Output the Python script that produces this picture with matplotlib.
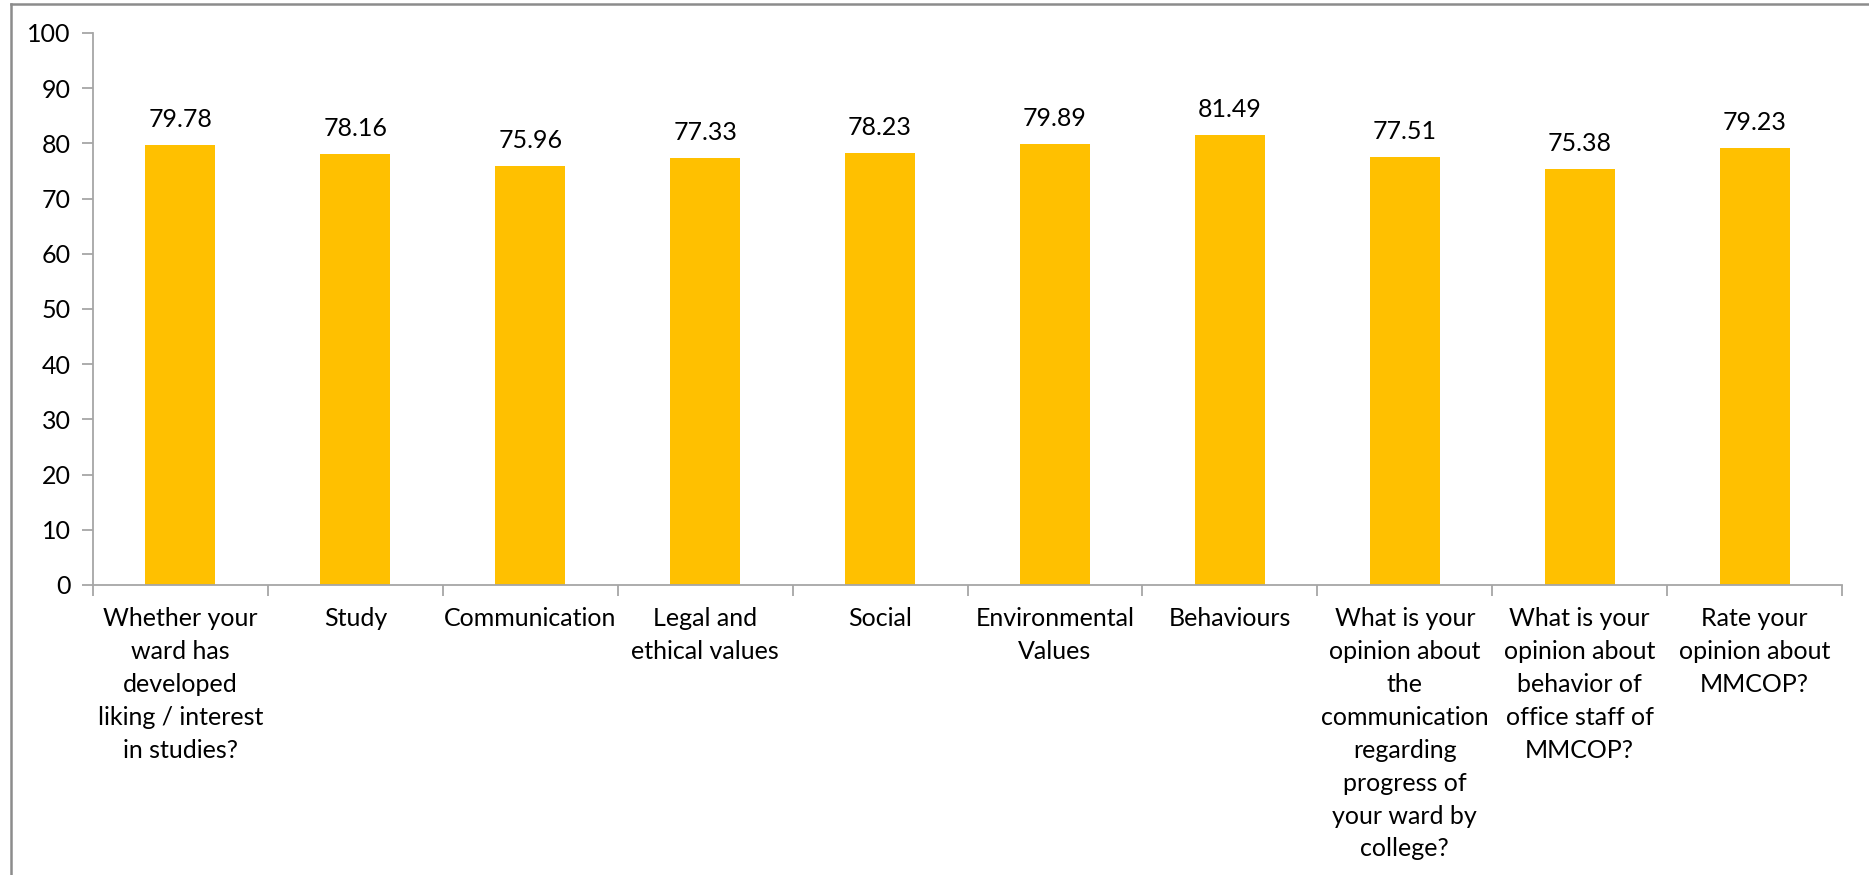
import matplotlib.pyplot as plt
from matplotlib.lines import Line2D
import numpy as np

categories = [
    "Whether your\nward has\ndeveloped\nliking / interest\nin studies?",
    "Study",
    "Communication",
    "Legal and\nethical values",
    "Social",
    "Environmental\nValues",
    "Behaviours",
    "What is your\nopinion about\nthe\ncommunication\nregarding\nprogress of\nyour ward by\ncollege?",
    "What is your\nopinion about\nbehavior of\noffice staff of\nMMCOP?",
    "Rate your\nopinion about\nMMCOP?",
]
values = [79.78, 78.16, 75.96, 77.33, 78.23, 79.89, 81.49, 77.51, 75.38, 79.23]
yticks = [0, 10, 20, 30, 40, 50, 60, 70, 80, 90, 100]

plt.rcParams['font.family'] = ['Lato', 'DejaVu Sans']
W, H = 1869, 875
fig = plt.figure(figsize=(W / 100, H / 100), dpi=100)
ax = fig.add_axes([93 / W, 1 - 585 / H, (1842 - 93) / W, (585 - 33) / H])

x = np.arange(len(values))
ax.bar(x, values, width=0.4, color='#FFC000', zorder=2)

# etiquetas de datos
for xi, v in zip(x, values):
    ax.annotate(f"{v:.2f}", (xi, v), xytext=(0, 10), textcoords='offset points',
                ha='center', va='bottom', fontsize=18, color='black')

ax.set_xlim(-0.5, len(values) - 0.5)
ax.set_ylim(0, 100)
ax.set_yticks(yticks)
ax.tick_params(axis='y', labelsize=18, length=8, width=1.3, color='#A6A6A6', pad=8)

# ticks en los limites de cada categoria
ax.set_xticks(np.arange(-0.5, len(values), 1.0))
ax.set_xticklabels([])
ax.set_xticks(x, minor=True)
ax.set_xticklabels(categories, minor=True, fontsize=18, linespacing=1.52, va='top')
ax.tick_params(axis='x', which='major', length=8, width=1.3, color='#A6A6A6')
ax.tick_params(axis='x', which='minor', length=0, pad=16)

for s in ['top', 'right']:
    ax.spines[s].set_visible(False)
for s in ['left', 'bottom']:
    ax.spines[s].set_color('#A6A6A6')
    ax.spines[s].set_linewidth(1.3)

# borde exterior del grafico
fig.add_artist(Line2D([11 / W, 11 / W], [0, 1 - 4 / H], color='#8C8C8C', lw=1.8))
fig.add_artist(Line2D([11 / W, 1], [1 - 4 / H, 1 - 4 / H], color='#8C8C8C', lw=1.8))

plt.savefig("out.png", dpi=100)
